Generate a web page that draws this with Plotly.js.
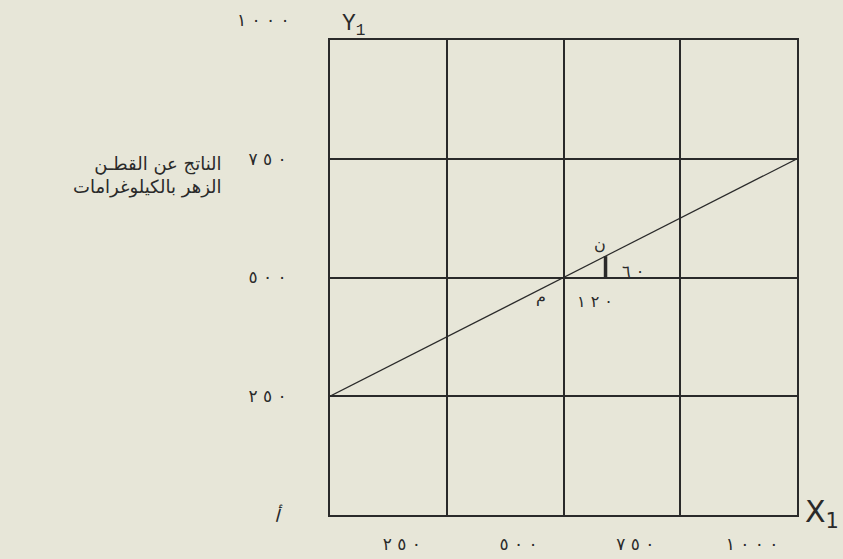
<!DOCTYPE html>
<html><head><meta charset="utf-8">
<script src="https://cdn.plot.ly/plotly-3.0.1.min.js"></script>
<style>html,body{margin:0;padding:0;background:#e7e6d8;}</style>
</head><body>
<div id="chart" style="width:843px;height:559px;"></div>
<script>
// data
const lineX = [0, 1000];
const lineY = [250, 750];
const riseX = [590, 590];
const riseY = [500, 545];
const xTickVals = [250, 500, 750, 1000];
const xTickText = ["٢٥٠", "٥٠٠", "٧٥٠", "١٠٠٠"];
const yTickVals = [250, 500, 750];
const yTickText = ["٢٥٠", "٥٠٠", "٧٥٠"];
const yTopVal = 1000;
const yTopText = "١٠٠٠";
const yTitleLines = ["الناتج عن القطـن", "الزهر بالكيلوغرامات"];
const pointLabels = [
  {text: "ن", x: 579, y: 570, anchor: "center"},
  {text: "٦٠", x: 622, y: 512, anchor: "left"},
  {text: "١٢٠", x: 568, y: 450, anchor: "center"},
  {text: "م", x: 451, y: 459, anchor: "center"}
];
const originLabel = "أ";

const ink = "#2a2a2a";
const spaced = s => "\u202D" + s.split("").join(" ") + "\u202C";
const digitFont = {family: "DejaVu Sans", size: 17, color: ink};

const traces = [
  {x: lineX, y: lineY, mode: "lines", line: {color: ink, width: 1.2}, hoverinfo: "skip"},
  {x: riseX, y: riseY, mode: "lines", line: {color: ink, width: 3.5}, hoverinfo: "skip"}
];

const annotations = [];
pointLabels.forEach(p => annotations.push({
  x: p.x, y: p.y, xref: "x", yref: "y", text: spaced(p.text), showarrow: false,
  font: {family: "DejaVu Sans", size: 16, color: ink}, xanchor: p.anchor, yanchor: "middle"
}));
annotations.push({x: 0, y: yTopVal, xref: "paper", yref: "y", text: spaced(yTopText), showarrow: false,
  font: digitFont, xanchor: "right", yanchor: "middle", xshift: -38, yshift: 20});
annotations.push({x: 0, y: 0.715, xref: "paper", yref: "paper", text: yTitleLines.join("<br>"),
  showarrow: false, align: "right", xanchor: "right", yanchor: "middle", xshift: -106,
  font: {family: "DejaVu Sans", size: 18, color: ink}});
annotations.push({x: 0, y: 0, xref: "paper", yref: "paper", text: originLabel, showarrow: false,
  xanchor: "center", yanchor: "middle", xshift: -52, textangle: 15,
  font: {family: "DejaVu Sans", size: 18, color: ink}});
annotations.push({x: 0, y: 1, xref: "paper", yref: "paper", text: "Y<sub>1</sub>", showarrow: false,
  xanchor: "left", yanchor: "bottom", xshift: 10, yshift: -2,
  font: {family: "Liberation Mono", size: 23, color: ink}});
annotations.push({x: 1, y: 0, xref: "paper", yref: "paper", text: "X<sub>1</sub>", showarrow: false,
  xanchor: "left", yanchor: "middle", xshift: 6, yshift: 2,
  font: {family: "DejaVu Sans", size: 30, color: ink}});

const axisCommon = {
  range: [0, 1000], showgrid: true, gridcolor: ink, gridwidth: 2,
  showline: true, linecolor: ink, linewidth: 2, mirror: true,
  zeroline: false, ticks: "", tickfont: digitFont, fixedrange: true
};

const layout = {
  width: 843, height: 559,
  margin: {l: 330, r: 46, t: 40, b: 44},
  paper_bgcolor: "#e7e6d8", plot_bgcolor: "#e7e6d8",
  showlegend: false,
  xaxis: Object.assign({}, axisCommon, {
    tickmode: "array", tickvals: xTickVals, ticktext: xTickText.map(spaced),
    ticklabelshift: -45, ticklabelstandoff: 13
  }),
  yaxis: Object.assign({}, axisCommon, {
    tickmode: "array", tickvals: yTickVals, ticktext: yTickText.map(spaced),
    ticklabelstandoff: 38
  }),
  annotations: annotations
};

Plotly.newPlot("chart", traces, layout, {displayModeBar: false, staticPlot: true});
</script>
</body></html>
